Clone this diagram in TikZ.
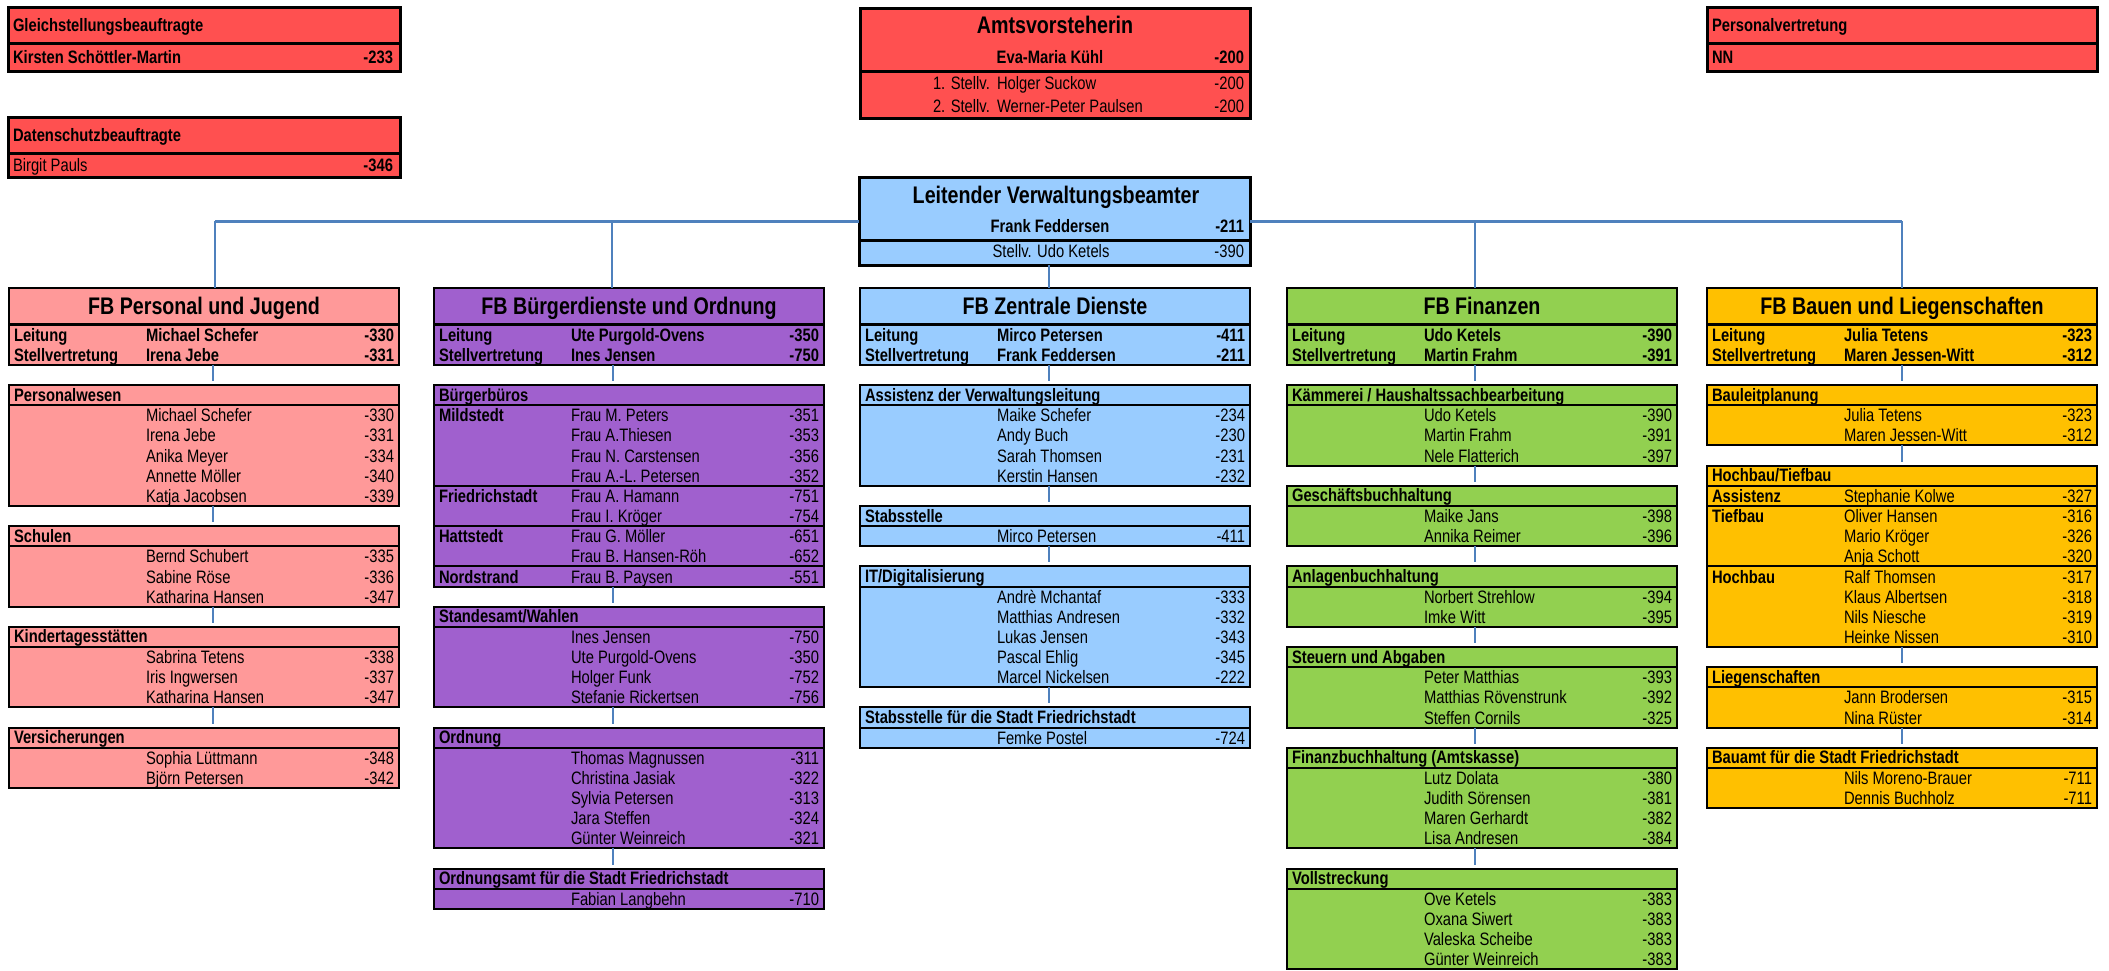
\documentclass[tikz,border=0pt]{standalone}
\usepackage{fontspec}
\setmainfont{Liberation Sans}[FakeStretch=0.82]
\definecolor{redc}{RGB}{255,80,80}
\definecolor{pinkc}{RGB}{255,153,153}
\definecolor{purc}{RGB}{160,96,206}
\definecolor{bluec}{RGB}{153,204,255}
\definecolor{greenc}{RGB}{146,208,80}
\definecolor{orangec}{RGB}{255,192,0}
\definecolor{linec}{RGB}{79,129,189}
\newcommand\fs{\fontsize{18}{20}\selectfont}
\newcommand\fsbig{\fontsize{24}{26}\selectfont\bfseries}
\newcount\tn
\def\cc{pinkc}
\tikzset{
  T/.style={inner sep=0pt, outer sep=0pt, font=\fs},
  tl/.style={T, anchor=base west},
  tr/.style={T, anchor=base east},
  tc/.style={T, anchor=base},
  frame/.style={draw=black, inner sep=0pt, outer sep=0pt, anchor=north west, fill=\cc},
  topbox/.style={frame, line width=3pt},
  fbbox/.style={frame, line width=2.6pt, minimum width=390pt},
  secbox/.style={frame, line width=2pt, minimum width=390pt},
  topline/.style={draw=black, line width=3pt},
  fbline/.style={draw=black, line width=2.6pt},
  secline/.style={draw=black, line width=2pt},
  conn/.style={draw=linec, line width=2.2pt, shorten >=4pt},
  mainline/.style={draw=linec, line width=3pt},
  drop/.style={draw=linec, line width=2pt},
}
\newcommand\Tx[3]{\global\advance\tn by 1 \node[#1] (t\the\tn) at (#2) {#3};}
\newcommand\Rw[4]{%
  \pgfmathsetmacro\yb{385+20.15*(#2+1)-3.5}%
  \pgfmathsetmacro\xa{#1+137}%
  \pgfmathsetmacro\xb{#1+385}%
  \Tx{tl}{\xa,\yb}{#3}%
  \Tx{tr}{\xb,\yb}{#4}}
\newcommand\Lb[3]{%
  \pgfmathsetmacro\yb{385+20.15*(#2+1)-3.5}%
  \pgfmathsetmacro\xa{#1+5}%
  \Tx{tl}{\xa,\yb}{\bfseries #3}}
\newcommand\Sec[5]{%
  \pgfmathsetmacro\yt{385+20.15*(#3)}%
  \pgfmathsetmacro\hh{20.15*(#4+1)}%
  \pgfmathsetmacro\yd{385+20.15*(#3+1)}%
  \node[secbox, minimum height=\hh pt] (#1) at (#2,\yt) {};
  \draw[secline] (#2,\yd) -- ++(390,0);
  \pgfmathsetmacro\xa{#2+5}%
  \pgfmathsetmacro\yb{\yd-4}%
  \Tx{tl}{\xa,\yb}{\bfseries #5}}
\newcommand\Dv[2]{%
  \pgfmathsetmacro\yd{385+20.15*(#2)}%
  \draw[secline] (#1,\yd) -- ++(390,0);}
\newcommand\FB[7]{%
  \node[fbbox, minimum height=76.85pt] (#1) at (#2,288) {};
  \draw[fbline] (#2,324.55) -- ++(390,0);
  \pgfmathsetmacro\xc{#2+195}%
  \Tx{tc}{\xc,314}{\fsbig #3}%
  \Lb{#2}{-3}{Leitung}%
  \Lb{#2}{-2}{Stellvertretung}%
  \Rw{#2}{-3}{\bfseries #4}{\bfseries #5}%
  \Rw{#2}{-2}{\bfseries #6}{\bfseries #7}}
\begin{document}
\begin{tikzpicture}[x=1pt,y=-1pt]
\fill[white] (0,0) rectangle (2109,970);
\useasboundingbox (0,0) rectangle (2109,970);

% ---------- top boxes ----------
\def\cc{redc}
\node[topbox, minimum width=392pt, minimum height=64pt] (gb) at (8,7) {};
\draw[topline] (8,43) -- ++(392,0);
\Tx{tl}{13,31}{\bfseries Gleichstellungsbeauftragte}
\Tx{tl}{13,63}{\bfseries Kirsten Schöttler-Martin}
\Tx{tr}{393,63}{\bfseries -233}

\node[topbox, minimum width=392pt, minimum height=60pt] (ds) at (8,117) {};
\draw[topline] (8,153) -- ++(392,0);
\Tx{tl}{13,141}{\bfseries Datenschutzbeauftragte}
\Tx{tl}{13,171}{Birgit Pauls}
\Tx{tr}{393,171}{\bfseries -346}

\node[topbox, minimum width=390pt, minimum height=64pt] (pv) at (1707,7) {};
\draw[topline] (1707,43) -- ++(390,0);
\Tx{tl}{1712,31}{\bfseries Personalvertretung}
\Tx{tl}{1712,63}{\bfseries NN}

\node[topbox, minimum width=390pt, minimum height=110pt] (av) at (860,8) {};
\draw[topline] (860,71) -- ++(390,0);
\Tx{tc}{1055,33}{\fsbig Amtsvorsteherin}
\Tx{tc}{1050,63}{\bfseries Eva-Maria Kühl}
\Tx{tr}{1244,63}{\bfseries -200}
\Tx{tl}{933,89}{1. Stellv.}
\Tx{tl}{997,89}{Holger Suckow}
\Tx{tr}{1244,89}{-200}
\Tx{tl}{933,112}{2. Stellv.}
\Tx{tl}{997,112}{Werner-Peter Paulsen}
\Tx{tr}{1244,112}{-200}

% ---------- LVB ----------
\def\cc{bluec}
\coordinate (h1) at (215,221);
\coordinate (h2) at (612,221);
\coordinate (h4) at (1475,221);
\coordinate (h5) at (1902,221);
\coordinate (k1) at (213,0);
\coordinate (k2) at (613,0);
\coordinate (k3) at (1049,0);
\coordinate (k4) at (1475,0);
\coordinate (k5) at (1902,0);
\node[topbox, minimum width=391pt, minimum height=88pt] (lvb) at (859,177) {};
\draw[topline] (859,240) -- ++(391,0);
\Tx{tc}{1056,203}{\fsbig Leitender Verwaltungsbeamter}
\Tx{tc}{1050,232}{\bfseries Frank Feddersen}
\Tx{tr}{1244,232}{\bfseries -211}
\Tx{tc}{1051,257}{Stellv. Udo Ketels}
\Tx{tr}{1244,257}{-390}

% ---------- Column 1 ----------
\def\cc{pinkc}
\FB{pj}{9}{FB Personal und Jugend}{Michael Schefer}{-330}{Irena Jebe}{-331}
\Sec{pj1}{9}{0}{5}{Personalwesen}
\Rw{9}{1}{Michael Schefer}{-330}
\Rw{9}{2}{Irena Jebe}{-331}
\Rw{9}{3}{Anika Meyer}{-334}
\Rw{9}{4}{Annette Möller}{-340}
\Rw{9}{5}{Katja Jacobsen}{-339}
\Sec{pj2}{9}{7}{3}{Schulen}
\Rw{9}{8}{Bernd Schubert}{-335}
\Rw{9}{9}{Sabine Röse}{-336}
\Rw{9}{10}{Katharina Hansen}{-347}
\Sec{pj3}{9}{12}{3}{Kindertagesstätten}
\Rw{9}{13}{Sabrina Tetens}{-338}
\Rw{9}{14}{Iris Ingwersen}{-337}
\Rw{9}{15}{Katharina Hansen}{-347}
\Sec{pj4}{9}{17}{2}{Versicherungen}
\Rw{9}{18}{Sophia Lüttmann}{-348}
\Rw{9}{19}{Björn Petersen}{-342}

% ---------- Column 2 ----------
\def\cc{purc}
\FB{bo}{434}{FB Bürgerdienste und Ordnung}{Ute Purgold-Ovens}{-350}{Ines Jensen}{-750}
\Sec{bo1}{434}{0}{9}{Bürgerbüros}
\Lb{434}{1}{Mildstedt}
\Rw{434}{1}{Frau M. Peters}{-351}
\Rw{434}{2}{Frau A.Thiesen}{-353}
\Rw{434}{3}{Frau N. Carstensen}{-356}
\Rw{434}{4}{Frau A.-L. Petersen}{-352}
\Dv{434}{5}
\Lb{434}{5}{Friedrichstadt}
\Rw{434}{5}{Frau A. Hamann}{-751}
\Rw{434}{6}{Frau I. Kröger}{-754}
\Dv{434}{7}
\Lb{434}{7}{Hattstedt}
\Rw{434}{7}{Frau G. Möller}{-651}
\Rw{434}{8}{Frau B. Hansen-Röh}{-652}
\Dv{434}{9}
\Lb{434}{9}{Nordstrand}
\Rw{434}{9}{Frau B. Paysen}{-551}
\Sec{bo2}{434}{11}{4}{Standesamt/Wahlen}
\Rw{434}{12}{Ines Jensen}{-750}
\Rw{434}{13}{Ute Purgold-Ovens}{-350}
\Rw{434}{14}{Holger Funk}{-752}
\Rw{434}{15}{Stefanie Rickertsen}{-756}
\Sec{bo3}{434}{17}{5}{Ordnung}
\Rw{434}{18}{Thomas Magnussen}{-311}
\Rw{434}{19}{Christina Jasiak}{-322}
\Rw{434}{20}{Sylvia Petersen}{-313}
\Rw{434}{21}{Jara Steffen}{-324}
\Rw{434}{22}{Günter Weinreich}{-321}
\Sec{bo4}{434}{24}{1}{Ordnungsamt für die Stadt Friedrichstadt}
\Rw{434}{25}{Fabian Langbehn}{-710}

% ---------- Column 3 ----------
\def\cc{bluec}
\FB{zd}{860}{FB Zentrale Dienste}{Mirco Petersen}{-411}{Frank Feddersen}{-211}
\Sec{zd1}{860}{0}{4}{Assistenz der Verwaltungsleitung}
\Rw{860}{1}{Maike Schefer}{-234}
\Rw{860}{2}{Andy Buch}{-230}
\Rw{860}{3}{Sarah Thomsen}{-231}
\Rw{860}{4}{Kerstin Hansen}{-232}
\Sec{zd2}{860}{6}{1}{Stabsstelle}
\Rw{860}{7}{Mirco Petersen}{-411}
\Sec{zd3}{860}{9}{5}{IT/Digitalisierung}
\Rw{860}{10}{Andrè Mchantaf}{-333}
\Rw{860}{11}{Matthias Andresen}{-332}
\Rw{860}{12}{Lukas Jensen}{-343}
\Rw{860}{13}{Pascal Ehlig}{-345}
\Rw{860}{14}{Marcel Nickelsen}{-222}
\Sec{zd4}{860}{16}{1}{Stabsstelle für die Stadt Friedrichstadt}
\Rw{860}{17}{Femke Postel}{-724}

% ---------- Column 4 ----------
\def\cc{greenc}
\FB{fi}{1287}{FB Finanzen}{Udo Ketels}{-390}{Martin Frahm}{-391}
\Sec{fi1}{1287}{0}{3}{Kämmerei / Haushaltssachbearbeitung}
\Rw{1287}{1}{Udo Ketels}{-390}
\Rw{1287}{2}{Martin Frahm}{-391}
\Rw{1287}{3}{Nele Flatterich}{-397}
\Sec{fi2}{1287}{5}{2}{Geschäftsbuchhaltung}
\Rw{1287}{6}{Maike Jans}{-398}
\Rw{1287}{7}{Annika Reimer}{-396}
\Sec{fi3}{1287}{9}{2}{Anlagenbuchhaltung}
\Rw{1287}{10}{Norbert Strehlow}{-394}
\Rw{1287}{11}{Imke Witt}{-395}
\Sec{fi4}{1287}{13}{3}{Steuern und Abgaben}
\Rw{1287}{14}{Peter Matthias}{-393}
\Rw{1287}{15}{Matthias Rövenstrunk}{-392}
\Rw{1287}{16}{Steffen Cornils}{-325}
\Sec{fi5}{1287}{18}{4}{Finanzbuchhaltung (Amtskasse)}
\Rw{1287}{19}{Lutz Dolata}{-380}
\Rw{1287}{20}{Judith Sörensen}{-381}
\Rw{1287}{21}{Maren Gerhardt}{-382}
\Rw{1287}{22}{Lisa Andresen}{-384}
\Sec{fi6}{1287}{24}{4}{Vollstreckung}
\Rw{1287}{25}{Ove Ketels}{-383}
\Rw{1287}{26}{Oxana Siwert}{-383}
\Rw{1287}{27}{Valeska Scheibe}{-383}
\Rw{1287}{28}{Günter Weinreich}{-383}

% ---------- Column 5 ----------
\def\cc{orangec}
\FB{bl}{1707}{FB Bauen und Liegenschaften}{Julia Tetens}{-323}{Maren Jessen-Witt}{-312}
\Sec{bl1}{1707}{0}{2}{Bauleitplanung}
\Rw{1707}{1}{Julia Tetens}{-323}
\Rw{1707}{2}{Maren Jessen-Witt}{-312}
\Sec{bl2}{1707}{4}{8}{Hochbau/Tiefbau}
\Lb{1707}{5}{Assistenz}
\Rw{1707}{5}{Stephanie Kolwe}{-327}
\Dv{1707}{6}
\Lb{1707}{6}{Tiefbau}
\Rw{1707}{6}{Oliver Hansen}{-316}
\Rw{1707}{7}{Mario Kröger}{-326}
\Rw{1707}{8}{Anja Schott}{-320}
\Dv{1707}{9}
\Lb{1707}{9}{Hochbau}
\Rw{1707}{9}{Ralf Thomsen}{-317}
\Rw{1707}{10}{Klaus Albertsen}{-318}
\Rw{1707}{11}{Nils Niesche}{-319}
\Rw{1707}{12}{Heinke Nissen}{-310}
\Sec{bl3}{1707}{14}{2}{Liegenschaften}
\Rw{1707}{15}{Jann Brodersen}{-315}
\Rw{1707}{16}{Nina Rüster}{-314}
\Sec{bl4}{1707}{18}{2}{Bauamt für die Stadt Friedrichstadt}
\Rw{1707}{19}{Nils Moreno-Brauer}{-711}
\Rw{1707}{20}{Dennis Buchholz}{-711}

% ---------- connectors ----------
\draw[mainline] (h1) -- (h1 -| lvb.west);
\draw[mainline] (lvb.east |- h5) -- (h5);
\draw[drop] (h1) -- (h1 |- pj.north);
\draw[drop] (h2) -- (h2 |- bo.north);
\draw[drop] (h4) -- (h4 |- fi.north);
\draw[drop] (h5) -- (h5 |- bl.north);
\draw[drop] (lvb.south -| k3) -- (zd.north -| k3);

\draw[conn] (pj.south -| k1) -- (pj1.north -| k1);
\draw[conn] (pj1.south -| k1) -- (pj2.north -| k1);
\draw[conn] (pj2.south -| k1) -- (pj3.north -| k1);
\draw[conn] (pj3.south -| k1) -- (pj4.north -| k1);

\draw[conn] (bo.south -| k2) -- (bo1.north -| k2);
\draw[conn] (bo1.south -| k2) -- (bo2.north -| k2);
\draw[conn] (bo2.south -| k2) -- (bo3.north -| k2);
\draw[conn] (bo3.south -| k2) -- (bo4.north -| k2);

\draw[conn] (zd.south -| k3) -- (zd1.north -| k3);
\draw[conn] (zd1.south -| k3) -- (zd2.north -| k3);
\draw[conn] (zd2.south -| k3) -- (zd3.north -| k3);
\draw[conn] (zd3.south -| k3) -- (zd4.north -| k3);

\draw[conn] (fi.south -| k4) -- (fi1.north -| k4);
\draw[conn] (fi1.south -| k4) -- (fi2.north -| k4);
\draw[conn] (fi2.south -| k4) -- (fi3.north -| k4);
\draw[conn] (fi3.south -| k4) -- (fi4.north -| k4);
\draw[conn] (fi4.south -| k4) -- (fi5.north -| k4);
\draw[conn] (fi5.south -| k4) -- (fi6.north -| k4);

\draw[conn] (bl.south -| k5) -- (bl1.north -| k5);
\draw[conn] (bl1.south -| k5) -- (bl2.north -| k5);
\draw[conn] (bl2.south -| k5) -- (bl3.north -| k5);
\draw[conn] (bl3.south -| k5) -- (bl4.north -| k5);
\end{tikzpicture}
\end{document}
